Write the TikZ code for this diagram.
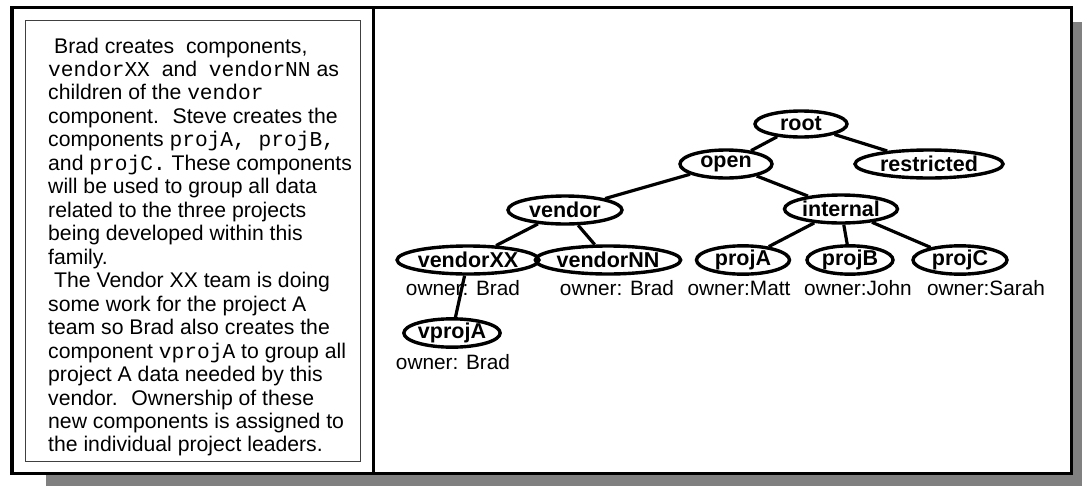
\documentclass[tikz,border=0pt]{standalone}
\usepackage{fontspec}
\setmainfont{Liberation Sans}
\setmonofont{Liberation Mono}
\usetikzlibrary{shapes.geometric}
\definecolor{shadowgray}{RGB}{128,128,128}
\begin{document}
\begin{tikzpicture}[x=1pt,y=-1pt,
  comp/.style={ellipse, draw, line width=3.4pt, minimum height=28pt, inner sep=0pt,
    font=\fontsize{21.5}{24}\selectfont\bfseries},
  owner/.style={anchor=base, inner sep=0pt, font=\fontsize{20.8}{24}\selectfont},
  link/.style={line width=3.2pt},
  frame/.style={draw=black, line width=3.2pt},
  notebox/.style={draw=black!75, line width=1pt},
]
\useasboundingbox (0,0) rectangle (1082,485);

% drop shadow and main panel
\fill[shadowgray] (46,22) rectangle (1110,510);
\fill[white] (12,7.7) rectangle (1071.7,473.3);
\draw[frame] (12,7.7) rectangle (1071.7,473.3);
\coordinate (divtop) at (373.3,7.7);
\coordinate (divbot) at (373.3,473.3);
\draw[frame] (divtop) -- (divbot);

% explanatory note
\draw[notebox] (25,20) rectangle (360,461.7);
\node[anchor=base west, inner sep=0pt] (story) at (48,53) {\parbox[t]{340pt}{%
\fontsize{21.2}{23.47}\selectfont\raggedright
\hspace*{0.28em}Brad creates~ components,\\
\texttt{vendorXX}~ and~ \texttt{vendorNN} as\\
children of the \texttt{vendor}\\
component.~ Steve creates the\\
components \texttt{projA, projB,}\\
and \texttt{projC.} These components\\
will be used to group all data\\
related to the three projects\\
being developed within this\\
family.\\
\hspace*{0.28em}The Vendor XX team is doing\\
some work for the project A\\
team so Brad also creates the\\
component \texttt{vprojA} to group all\\
project A data needed by this\\
vendor.~ Ownership of these\\
new components is assigned to\\
the individual project leaders.}};

% component tree
\node[comp, minimum width=92pt, minimum height=26pt] (root) at (801,124) {root};
\node[comp, minimum width=92pt] (open) at (726,164) {open};
\node[comp, minimum width=148pt] (restricted) at (929,164) {restricted};
\node[comp, minimum width=114pt] (vendor) at (565,210) {vendor};
\node[comp, minimum width=113pt] (internal) at (841,209) {internal};
\node[comp, minimum width=133pt] (vendorXX) at (468,260) {vendorXX};
\node[comp, minimum width=133pt] (vendorNN) at (608,260) {vendorNN};
\node[comp, minimum width=93pt] (projA) at (743,260) {projA};
\node[comp, minimum width=86pt] (projB) at (850,260) {projB};
\node[comp, minimum width=94pt] (projC) at (960,260) {projC};
\node[comp, minimum width=95pt] (vprojA) at (452,333) {vprojA};

% owners
\node[owner] (ownXX) at (463,295) {owner: Brad};
\node[owner] (ownNN) at (617,295) {owner: Brad};
\node[owner] (ownA) at (739,295) {owner:Matt};
\node[owner] (ownB) at (858,295) {owner:John};
\node[owner] (ownC) at (986,295) {owner:Sarah};
\node[owner] (ownV) at (453,369) {owner: Brad};

% parent-child links
\draw[link] (root) -- (open);
\draw[link] (root) -- (restricted);
\draw[link] (open) -- (vendor);
\draw[link] (open) -- (internal);
\draw[link] (vendor) -- (vendorXX);
\draw[link] (vendor) -- (vendorNN);
\draw[link] (internal) -- (projA);
\draw[link] (internal) -- (projB);
\draw[link] (internal) -- (projC);
\draw[link] (vendorXX) -- (vprojA);
\end{tikzpicture}
\end{document}
